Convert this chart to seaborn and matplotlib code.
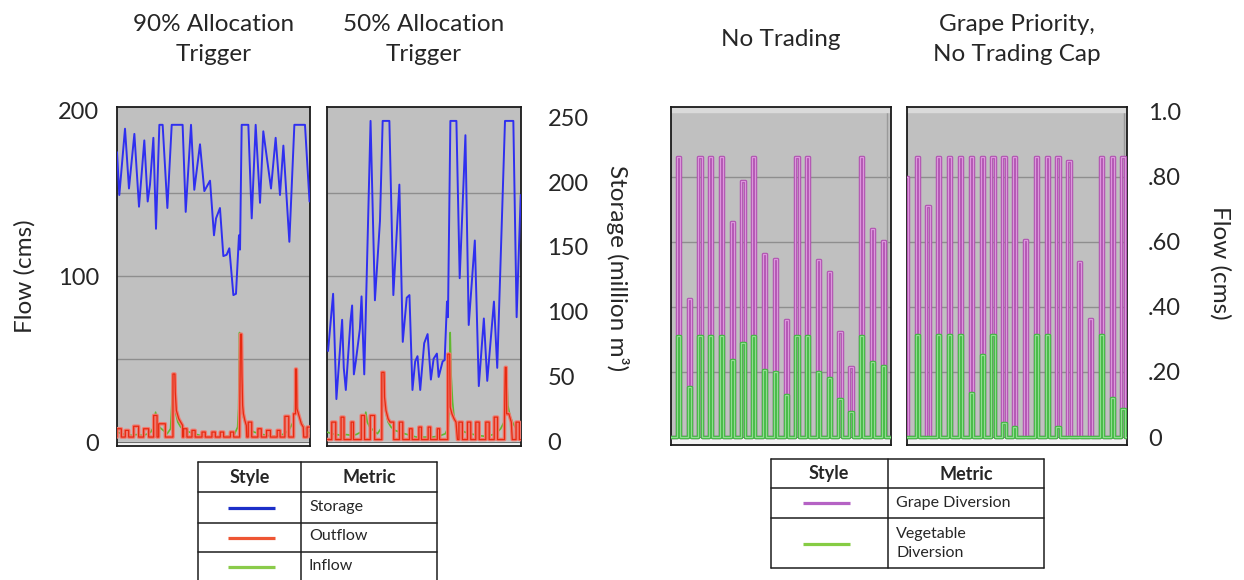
import numpy as np
import matplotlib
matplotlib.use("Agg")
import matplotlib.pyplot as plt
import matplotlib.patheffects as pe
import seaborn as sns

sns.set_style("white")
plt.rcParams['font.family'] = ['Lato', 'DejaVu Sans']

# ---------------- data ----------------
titles = ["90% Allocation\nTrigger", "50% Allocation\nTrigger", "No Trading", "Grape Priority,\nNo Trading Cap"]
flow_ticks_left = [0, 100, 200]
storage_ticks = [0, 50, 100, 150, 200, 250]
flow_ticks_right = [0, 0.2, 0.4, 0.6, 0.8, 1.0]
flow_tick_labels_right = ["0", ".20", ".40", ".60", ".80", "1.0"]

# storage (million m3) vs time (years)
stor_A_t = [0.0, 0.24, 0.83, 1.24, 1.80, 2.28, 2.83, 3.18, 3.42, 3.77, 4.04, 4.39, 4.73, 5.22, 5.67, 6.80,
            7.12, 7.67, 8.01, 8.60, 9.05, 9.64, 10.05, 10.26, 10.67, 11.02, 11.36, 11.64, 12.06, 12.33,
            12.64, 12.75, 12.92, 13.61, 13.96, 14.37, 14.82, 15.16, 15.96, 16.44, 16.89, 17.24, 17.86,
            18.38, 19.48, 19.95]
stor_A = [223, 190, 241, 195, 237, 181, 232, 185, 198, 234, 164, 244, 244, 180, 244, 244,
          177, 244, 194, 229, 193, 201, 159, 172, 180, 143, 144, 149, 113, 114,
          159, 148, 244, 244, 172, 244, 184, 239, 195, 234, 190, 228, 154,
          244, 244, 185]

stor_B_t = [0.11, 0.63, 0.97, 1.56, 1.73, 1.94, 2.42, 2.59, 2.77, 2.97, 3.39, 3.56, 3.84, 3.98, 4.49, 4.94,
            5.46, 5.74, 6.43, 6.84, 7.46, 7.81, 8.22, 8.50, 8.81, 9.09, 9.33, 9.61, 10.02, 10.37, 10.71,
            10.99, 11.33, 11.51, 11.92, 12.13, 12.37, 12.47, 12.72, 13.34, 13.68, 14.27, 14.61, 15.24,
            15.65, 16.17, 16.52, 17.21, 17.55, 18.35, 19.21, 19.55, 19.97]
stor_B = [70, 114, 33, 94, 57, 40, 93, 105, 52, 62, 87, 112, 52, 93, 247, 109,
          170, 247, 247, 113, 198, 77, 111, 113, 40, 62, 66, 40, 76, 83, 48,
          64, 68, 50, 62, 63, 108, 96, 247, 247, 126, 236, 90, 155,
          43, 95, 47, 108, 57, 247, 247, 96, 190]

# inflow (cms) - same hydrology in both allocation-trigger scenarios
inflow_t = [0.0, 0.5, 1.0, 1.5, 2.0, 2.5, 3.0, 3.5, 3.8, 4.0, 4.15, 4.4, 4.8, 5.2, 5.55, 5.7, 5.8, 5.95,
            6.1, 6.3, 6.6, 7.0, 7.5, 8.0, 8.6, 9.2, 10.0, 10.8, 11.5, 12.2, 12.5, 12.6, 12.7, 12.8,
            12.95, 13.1, 13.35, 13.7, 14.2, 14.8, 15.5, 16.2, 16.8, 17.4, 17.9, 18.25, 18.4, 18.5,
            18.65, 18.9, 19.2, 19.5, 19.8, 20.0]
inflow = [6, 5, 4.5, 4, 4.5, 4, 4.5, 6, 9, 18, 12, 9, 7, 5, 8, 25, 40, 26,
          17, 12, 9, 7, 6, 5, 4, 3, 3, 3, 3.5, 5, 9, 20, 66, 40,
          24, 15, 11, 8, 6, 5, 4, 3.5, 4, 5, 8, 12, 18, 44,
          22, 15, 11, 8, 6, 5]

# outflow (cms): base flow, seasonal release pulses and flood releases
out_A_low = 3
pulse_A_start = [0.0, 0.86, 1.73, 2.76, 3.80, 4.32, 6.90, 7.77, 8.81, 9.84, 10.70, 11.75,
                 13.60, 14.60, 15.50, 16.60, 17.40, 19.70]
pulse_A_end = [0.45, 1.21, 2.24, 3.28, 4.15, 5.01, 7.25, 8.10, 9.15, 10.19, 11.05, 12.09,
               13.96, 14.95, 15.90, 16.90, 17.80, 20.10]
pulse_A_val = [8, 7, 9.5, 8, 16, 11, 8, 7, 6, 6, 6, 6, 12, 8, 7, 7, 15.5, 9]
flood_A_t = [[5.80, 5.80, 6.00, 6.04, 6.15, 6.40, 6.60, 6.80, 6.80],
             [12.70, 12.72, 12.80, 12.90, 12.95, 13.02, 13.10, 13.25, 13.40, 13.45],
             [18.30, 18.30, 18.50, 18.50, 18.60, 18.65, 18.80, 18.95, 19.10, 19.30, 19.35]]
flood_A_q = [[3, 41, 41, 30, 19, 14, 12, 10, 3],
             [3, 20, 65, 65, 40, 22, 17, 13, 10, 3],
             [3, 17, 17, 44, 44, 20, 17, 14, 11, 9, 3]]

out_B_low = 1.5
pulse_B_start = [0.49, 1.45, 2.49, 3.53, 4.46, 7.46, 8.50, 9.47, 10.43, 11.37, 13.60, 14.48,
                 15.34, 16.37, 17.24, 19.49]
pulse_B_end = [0.90, 1.75, 2.73, 3.87, 4.91, 7.81, 8.78, 9.74, 10.68, 11.61, 13.96, 14.82,
               15.69, 16.72, 17.58, 19.83]
pulse_B_val = [12, 15, 12, 16, 16, 12, 8, 9, 9, 8, 12, 12, 12, 12, 15, 12]
flood_B_t = [[5.65, 5.65, 5.88, 5.93, 6.08, 6.30, 6.50, 6.88, 6.88],
             [12.45, 12.45, 12.65, 12.70, 12.88, 13.10, 13.30, 13.45],
             [18.30, 18.30, 18.38, 18.48, 18.52, 18.75, 18.90, 19.00, 19.10]]
flood_B_q = [[1.5, 42, 42, 27, 19, 14, 12, 12, 1.5],
             [1.5, 53, 53, 21, 17, 14, 12, 1.5],
             [1.5, 14, 45, 45, 17, 17, 14, 12, 1.5]]

# seasonal diversions (cms) per year
years_C = list(range(20))
grape_C = [0.86, 0.425, 0.86, 0.86, 0.86, 0.66, 0.786, 0.86, 0.562, 0.547, 0.36, 0.86, 0.86,
           0.543, 0.507, 0.322, 0.214, 0.86, 0.64, 0.603]
veg_C = [0.31, 0.153, 0.31, 0.31, 0.31, 0.237, 0.288, 0.31, 0.205, 0.199, 0.129, 0.31, 0.31,
         0.199, 0.183, 0.117, 0.078, 0.31, 0.232, 0.218]
years_D = list(range(-1, 20))
grape_D = [0.80, 0.86, 0.711, 0.86, 0.86, 0.86, 0.86, 0.86, 0.86, 0.86, 0.86, 0.606, 0.86, 0.86,
           0.86, 0.85, 0.537, 0.362, 0.86, 0.86, 0.86]
veg_D = [0, 0.314, 0, 0.314, 0.314, 0.314, 0.134, 0.252, 0.314, 0.044, 0.032, 0, 0.314, 0.314,
         0.03, 0, 0, 0, 0.314, 0.119, 0.086]
season_C = (0.53, 0.30)   # (start within year, length) in years
season_D = (0.79, 0.30)

legend_left = ["Storage", "Outflow", "Inflow"]
legend_right = ["Grape Diversion", "Vegetable\nDiversion"]

# ---------------- helpers ----------------
W, H = 1244, 580
fig = plt.figure(figsize=(W / 100, H / 100), dpi=100)


def px_box(l, t, r, b):
    return [l / W, 1 - b / H, (r - l) / W, (b - t) / H]


def build_outflow(low, ps, pe_, pv, ft, fq, t0=0.0, t1=20.3):
    segs = [([s, s, e, e], [low, v, v, low]) for s, e, v in zip(ps, pe_, pv)]
    segs += [(a, b) for a, b in zip(ft, fq)]
    segs.sort(key=lambda g: g[0][0])
    xs, ys = [t0], [low]
    for gx, gy in segs:
        xs += list(gx)
        ys += list(gy)
    xs.append(t1)
    ys.append(low)
    return np.array(xs, float), np.array(ys, float)


def build_season(years, vals, season, t0, t1):
    off, length = season
    xs, ys = [t0], [0.0]
    for k, v in zip(years, vals):
        a = k + off
        b = a + length
        xs += [a, a, b, b]
        ys += [0.0, v, v, 0.0]
    xs.append(t1)
    ys.append(0.0)
    return np.array(xs, float), np.array(ys, float)


def line(ax, x, y, color, lw, halo=None, halo_w=None, z=3):
    kw = {}
    if halo is not None:
        kw['path_effects'] = [pe.Stroke(linewidth=halo_w, foreground=halo, joinstyle='round'), pe.Normal()]
    sns.lineplot(x=np.asarray(x, float), y=np.asarray(y, float), ax=ax, color=color, linewidth=lw,
                 sort=False, estimator=None, zorder=z, solid_joinstyle='round', **kw)


def style_panel(ax, ylo, yhi, xhi, grid, top_band=None):
    ax.set_facecolor('#c0c0c0')
    for g in grid:
        ax.axhline(g, color='#8e8e8e', lw=1.0, zorder=1)
    ax.axhspan(ylo, 0, color='#f3f3f3', zorder=1.5)
    ax.axhline(0, color='#707070', lw=0.8, zorder=1.6)
    if top_band is not None:
        ax.axhspan(top_band, yhi, color='#dadada', zorder=1.5)
    ax.set_xlim(0, xhi)
    ax.set_ylim(ylo, yhi)
    ax.set_xticks([0, 5, 10, 15, 20])
    ax.tick_params(axis='x', direction='in', length=3, width=0.9, color='#444', labelbottom=False)
    ax.set_xlabel('')
    ax.set_ylabel('')
    for s in ax.spines.values():
        s.set_color('#1a1a1a')
        s.set_linewidth(1.3)


FS_TICK = 17
C_STOR, C_OUT, C_OUT_H, C_IN = '#2f2ff0', '#e62a10', '#f07a70', '#62b830'
C_GRAPE, C_GRAPE_IN, C_VEG, C_VEG_IN = '#b052b0', '#dc96dc', '#40b840', '#90dc90'

# ---------------- left panels ----------------
panels_left = [
    (px_box(117, 107, 310, 446), stor_A_t, stor_A,
     (out_A_low, pulse_A_start, pulse_A_end, pulse_A_val, flood_A_t, flood_A_q)),
    (px_box(327, 107, 521, 446), stor_B_t, stor_B,
     (out_B_low, pulse_B_start, pulse_B_end, pulse_B_val, flood_B_t, flood_B_q)),
]
for i, (box, st_t, st, outp) in enumerate(panels_left):
    ax = fig.add_axes(box)
    ox, oy = build_outflow(*outp)
    line(ax, inflow_t, inflow, C_IN, 1.2, z=3)
    line(ax, ox, oy, C_OUT, 0.9, halo=C_OUT_H, halo_w=2.6, z=4)
    style_panel(ax, -2.4, 202, 20.0, [50, 100, 150])
    ax.set_yticks(flow_ticks_left)
    if i == 0:
        ax.set_yticklabels([str(v) for v in flow_ticks_left], fontsize=FS_TICK)
        ax.tick_params(axis='y', length=0, pad=13)
    else:
        ax.tick_params(axis='y', length=0, labelleft=False)
    ax2 = ax.twinx()
    line(ax2, st_t, st, C_STOR, 1.4, z=5)
    ax2.set_ylim(-3.1, 257.7)
    ax2.set_xlim(0, 20.0)
    ax2.set_yticks(storage_ticks)
    ax2.set_ylabel('')
    for s in ax2.spines.values():
        s.set_visible(False)
    if i == 1:
        ax2.set_yticklabels([str(v) for v in storage_ticks], fontsize=FS_TICK)
        ax2.tick_params(axis='y', length=0, pad=19)
    else:
        ax2.tick_params(axis='y', length=0, labelright=False)

# ---------------- right panels ----------------
panels_right = [
    (px_box(671, 107, 891, 445), years_C, grape_C, veg_C, season_C, 20.4, False),
    (px_box(907, 107, 1127, 445), years_D, grape_D, veg_D, season_D, 20.3, True),
]
for box, yrs, gr, vg, season, xhi, labels in panels_right:
    ax = fig.add_axes(box)
    gx, gy = build_season(yrs, gr, season, -1.0, xhi + 0.5)
    vx, vy = build_season(yrs, vg, season, -1.0, xhi + 0.5)
    line(ax, gx, gy, C_GRAPE_IN, 0.9, halo=C_GRAPE, halo_w=2.5, z=3)
    line(ax, vx, vy, C_VEG_IN, 0.9, halo=C_VEG, halo_w=2.5, z=4)
    style_panel(ax, -0.0246, 1.015, xhi, [0.2, 0.4, 0.6, 0.8], top_band=1.0)
    ax.axvline(20, color='#9a9a9a', lw=1.0, zorder=1.2)
    ax.set_yticks(flow_ticks_right)
    ax.yaxis.tick_right()
    if labels:
        ax.set_yticklabels(flow_tick_labels_right, fontsize=FS_TICK)
        ax.tick_params(axis='y', length=0, pad=15, labelright=True, labelleft=False)
    else:
        ax.tick_params(axis='y', length=0, labelright=False, labelleft=False)

# ---------------- titles & axis labels ----------------
title_x = [213.5, 424, 781, 1017]
for tx, t in zip(title_x, titles):
    fig.text(tx / W, 1 - 39.5 / H, t, ha='center', va='center', fontsize=17.5, linespacing=1.55)

fig.text(25 / W, 1 - 276 / H, "Flow (cms)", rotation=90, ha='center', va='center', fontsize=17.5)
fig.text(617 / W, 1 - 268 / H, "Storage (million m³)", rotation=270, ha='center', va='center', fontsize=17.5)
fig.text(1220 / W, 1 - 263 / H, "Flow (cms)", rotation=270, ha='center', va='center', fontsize=17.5)

# ---------------- legend tables ----------------
ov = fig.add_axes([0, 0, 1, 1], zorder=10)
ov.set_xlim(0, W)
ov.set_ylim(H, 0)
ov.axis('off')
ov.patch.set_alpha(0)
TC = '#1e1e1e'
TLW = 1.1
FS_T = 11.5
FS_H = 13

# left table
for yy in [462.3, 492.3, 522.7, 552.3]:
    ov.plot([198.3, 436.7], [yy, yy], color=TC, lw=TLW)
for xx in [198.3, 301, 436.7]:
    ov.plot([xx, xx], [462.3, 581], color=TC, lw=TLW)
ov.text(250, 477.5, "Style", ha='center', va='center', fontsize=FS_H, fontweight='bold')
ov.text(369, 477.5, "Metric", ha='center', va='center', fontsize=FS_H, fontweight='bold')
for lbl, col, yy in zip(legend_left, ['#1c2fc8', '#ee5533', '#8acb4a'], [507.5, 537.5, 566.5]):
    ov.plot([228, 275], [yy, yy], color=col, lw=2.3, solid_capstyle='butt')
    ov.text(309, yy - 1, lbl, ha='left', va='center', fontsize=FS_T)

# right table
for yy in [459.3, 488.3, 518.3, 568.3]:
    ov.plot([770.7, 1044.3], [yy, yy], color=TC, lw=TLW)
for xx in [770.7, 887.7, 1044.3]:
    ov.plot([xx, xx], [459.3, 568.3], color=TC, lw=TLW)
ov.text(829, 474, "Style", ha='center', va='center', fontsize=FS_H, fontweight='bold')
ov.text(966, 474, "Metric", ha='center', va='center', fontsize=FS_H, fontweight='bold')
for lbl, col, yy in zip(legend_right, ['#b562c4', '#86cc44'], [503, 543.5]):
    ov.plot([802.7, 850], [yy, yy], color=col, lw=2.3, solid_capstyle='butt')
    ov.text(896, yy, lbl, ha='left', va='center', fontsize=FS_T, linespacing=1.45)

fig.savefig("out.png", dpi=100)
